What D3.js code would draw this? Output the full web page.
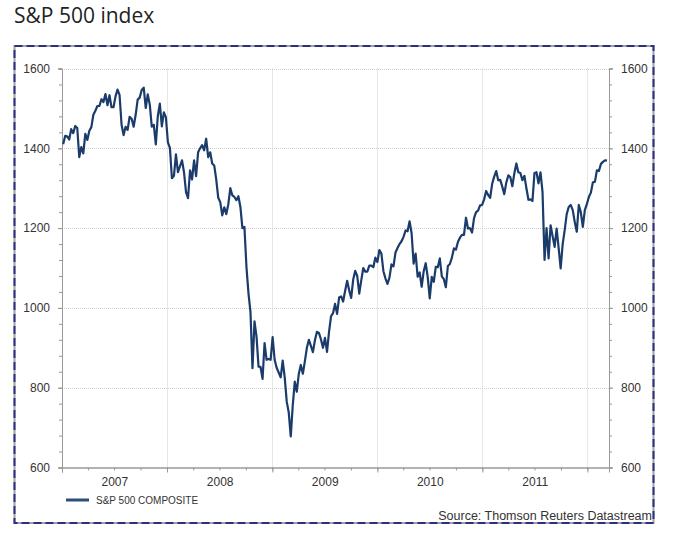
<!DOCTYPE html>
<html>
<head>
<meta charset="utf-8">
<script src="https://cdn.jsdelivr.net/npm/d3@7"></script>
<style>
  body { margin: 0; background: #fff; }
  svg { display: block; }
  .tick text { font-family: "Liberation Sans", Arial, sans-serif; font-size: 12px; fill: #333; }
</style>
</head>
<body>
<svg id="chart" width="675" height="539"></svg>
<script>
// weekly closes (Fridays), starting with the week of 5 Jan 2007
var firstWeek = new Date(2007, 0, 5);

var close2007 = [1410, 1431, 1430, 1422, 1448, 1438, 1456, 1451, 1378, 1403, 1387, 1436, 1421,
  1444, 1453, 1484, 1494, 1506, 1506, 1523, 1516, 1536, 1508, 1533, 1503, 1503, 1530,
  1547, 1534, 1459, 1433, 1454, 1446, 1479, 1474, 1454, 1484, 1522, 1527, 1546, 1552,
  1501, 1535, 1510, 1454, 1459, 1410, 1481, 1512, 1455, 1490, 1478];
var close2008 = [1415, 1401, 1325, 1331, 1385, 1340, 1355, 1370, 1340, 1290, 1275, 1345, 1322,
  1370, 1330, 1390, 1400, 1408, 1395, 1424, 1378, 1390, 1362, 1357, 1322, 1276, 1265,
  1232, 1252, 1235, 1260, 1300, 1282, 1278, 1270, 1280, 1253, 1200, 1203, 1103, 1037,
  990, 849, 966, 928, 853, 852, 822, 912, 870, 872, 870];
var close2009 = [927, 870, 850, 838, 826, 868, 826, 765, 738, 678, 756, 815, 790,
  835, 857, 835, 866, 900, 920, 905, 889, 919, 940, 937, 921, 900, 925,
  890, 940, 979, 987, 1010, 985, 1026, 1029, 1016, 1043, 1068, 1044, 1025, 1071,
  1093, 1080, 1036, 1069, 1100, 1091, 1091, 1106, 1106, 1102, 1126];
var close2010 = [1115, 1145, 1136, 1092, 1074, 1060, 1076, 1109, 1104, 1139, 1150, 1160, 1167,
  1178, 1194, 1192, 1217, 1187, 1111, 1136, 1078, 1089, 1053, 1092, 1112, 1077, 1024,
  1078, 1065, 1103, 1102, 1124, 1079, 1072, 1052, 1105, 1110, 1126, 1149, 1146, 1165,
  1176, 1183, 1183, 1226, 1199, 1200, 1189, 1225, 1240, 1244, 1257];
var close2011 = [1258, 1272, 1293, 1283, 1276, 1311, 1329, 1343, 1320, 1321, 1304, 1285, 1314,
  1332, 1328, 1305, 1337, 1362, 1340, 1338, 1320, 1331, 1300, 1271, 1272, 1268, 1338,
  1340, 1312, 1340, 1290, 1120, 1200, 1124, 1207, 1180, 1153, 1199, 1150, 1099, 1160,
  1195, 1235, 1253, 1258, 1245, 1215, 1191, 1258, 1240, 1203, 1245];
var close2012 = [1260, 1278, 1289, 1315, 1316, 1345, 1343, 1361, 1366, 1370, 1369];

var yTicks = [600, 800, 1000, 1200, 1400, 1600];
var yearLabels = ["2007", "2008", "2009", "2010", "2011"];
var seriesName = "S&P 500 COMPOSITE";
var titleText = "S&P 500 index";
var sourceText = "Source: Thomson Reuters Datastream";

var closes = [].concat(close2007, close2008, close2009, close2010, close2011, close2012);
var data = closes.map(function(v, i) {
  return { date: d3.timeDay.offset(firstWeek, 7 * i), value: v };
});

var svg = d3.select("#chart");
var lineColor = "#1b3c6b";

var x = d3.scaleTime()
  .domain([new Date(2007, 0, 1), new Date(2012, 2, 16)])
  .range([62, 609]);
var y = d3.scaleLinear().domain([600, 1600]).range([467.5, 68.5]);

// title
svg.append("text")
  .attr("x", 14).attr("y", 23)
  .style("font-family", "'Open Sans', sans-serif")
  .style("font-size", "21px")
  .style("fill", "#222")
  .text(titleText);

// frame: grey line with navy dashes over it
svg.append("rect")
  .attr("x", 14.5).attr("y", 46).attr("width", 639).attr("height", 477)
  .attr("fill", "none").attr("stroke", "#a0a0a8").attr("stroke-width", 2);
svg.append("rect")
  .attr("x", 14.5).attr("y", 46).attr("width", 639).attr("height", 477)
  .attr("fill", "none").attr("stroke", "#2f2f80").attr("stroke-width", 2)
  .attr("stroke-dasharray", "8,4");

// grid
var grid = svg.append("g").attr("stroke", "#cfcfcf").attr("stroke-dasharray", "1,1");
grid.selectAll(".hg")
  .data(yTicks.slice(1))
  .enter().append("line")
  .attr("x1", x.range()[0]).attr("x2", x.range()[1])
  .attr("y1", function(d) { return Math.round(y(d)) + 0.5; })
  .attr("y2", function(d) { return Math.round(y(d)) + 0.5; });
grid.selectAll(".vg")
  .data(d3.timeYear.range(new Date(2008, 0, 1), new Date(2012, 0, 2)))
  .enter().append("line")
  .attr("y1", y(1600)).attr("y2", y(600))
  .attr("x1", function(d) { return Math.round(x(d)) + 0.5; })
  .attr("x2", function(d) { return Math.round(x(d)) + 0.5; });

// axes
var minorY = d3.range(600, 1601, 40);
function styleAxis(g) {
  g.select(".domain").attr("stroke", "#999");
  g.selectAll(".tick line").attr("stroke", "#999");
}

svg.append("g").attr("transform", "translate(62,0)")
  .call(d3.axisLeft(y).tickValues(minorY).tickSize(3).tickFormat(""))
  .call(styleAxis);
svg.append("g").attr("transform", "translate(62,0)")
  .call(d3.axisLeft(y).tickValues(yTicks).tickSize(4).tickPadding(8).tickFormat(d3.format("d")))
  .call(styleAxis);

svg.append("g").attr("transform", "translate(609,0)")
  .call(d3.axisRight(y).tickValues(minorY).tickSize(3).tickFormat(""))
  .call(styleAxis);
svg.append("g").attr("transform", "translate(609,0)")
  .call(d3.axisRight(y).tickValues(yTicks).tickSize(4).tickPadding(8).tickFormat(d3.format("d")))
  .call(styleAxis);

svg.append("g").attr("transform", "translate(0,467.5)")
  .call(d3.axisBottom(x).ticks(d3.timeMonth.every(3)).tickSize(3).tickFormat(""))
  .call(styleAxis);
svg.append("g").attr("transform", "translate(0,467.5)")
  .call(d3.axisBottom(x).ticks(d3.timeYear).tickSize(5).tickFormat(""))
  .call(styleAxis);

// year labels in the middle of each year
svg.append("g").attr("transform", "translate(0,467.5)")
  .call(d3.axisBottom(x)
    .tickValues(yearLabels.map(function(s) { return new Date(+s, 6, 2); }))
    .tickSize(0).tickPadding(10)
    .tickFormat(function(d, i) { return yearLabels[i]; }))
  .call(function(g) { g.select(".domain").remove(); });

// series
var line = d3.line()
  .x(function(d) { return x(d.date); })
  .y(function(d) { return y(d.value); });

svg.append("path")
  .datum(data)
  .attr("fill", "none")
  .attr("stroke", lineColor)
  .attr("stroke-width", 2.2)
  .attr("stroke-linejoin", "round")
  .attr("d", line);

// legend
svg.append("line")
  .attr("x1", 66).attr("x2", 89).attr("y1", 500).attr("y2", 500)
  .attr("stroke", "#2b4d7a").attr("stroke-width", 3);
svg.append("text")
  .attr("x", 96).attr("y", 503.5)
  .style("font-family", "'Liberation Sans', Arial, sans-serif")
  .style("font-size", "10px").style("fill", "#333")
  .text(seriesName);

// source
svg.append("text")
  .attr("x", 652).attr("y", 519.5)
  .attr("text-anchor", "end")
  .style("font-family", "'Liberation Sans', Arial, sans-serif")
  .style("font-size", "12.5px").style("fill", "#333")
  .text(sourceText);
</script>
</body>
</html>
